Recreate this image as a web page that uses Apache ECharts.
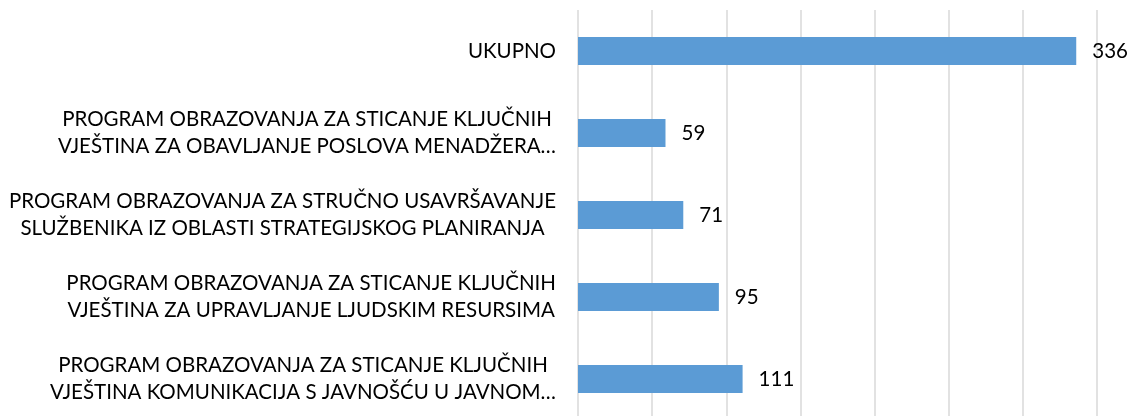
<!DOCTYPE html>
<html>
<head>
<meta charset="utf-8">
<script src="https://cdn.jsdelivr.net/npm/echarts@6/dist/echarts.min.js"></script>
<style>
  html, body { margin: 0; padding: 0; background: #fff; }
  #chart { width: 1133px; height: 416px; }
</style>
</head>
<body>
<div id="chart"></div>
<script>
  // kategorije odozdo prema gore (kao u Excelu)
  var categories = [
    'PROGRAM OBRAZOVANJA ZA STICANJE KLJUČNIH\nVJEŠTINA KOMUNIKACIJA S JAVNOŠĆU U JAVNOM…',
    'PROGRAM OBRAZOVANJA ZA STICANJE KLJUČNIH\nVJEŠTINA ZA UPRAVLJANJE LJUDSKIM RESURSIMA',
    'PROGRAM OBRAZOVANJA ZA STRUČNO USAVRŠAVANJE\nSLUŽBENIKA IZ OBLASTI STRATEGIJSKOG PLANIRANJA',
    'PROGRAM OBRAZOVANJA ZA STICANJE KLJUČNIH\nVJEŠTINA ZA OBAVLJANJE POSLOVA MENADŽERA…',
    'UKUPNO'
  ];
  var values = [111, 95, 71, 59, 336];

  var fontFamily = 'Lato, "Liberation Sans", sans-serif';

  var myChart = echarts.init(document.getElementById('chart'));

  var option = {
    animation: false,
    grid: {
      left: 578,
      top: 10,
      width: 519,
      height: 410,
      outerBoundsMode: 'none'
    },
    xAxis: {
      type: 'value',
      min: 0,
      max: 350,
      interval: 50,
      axisLabel: { show: false },
      axisLine: { show: false },
      axisTick: { show: false },
      splitLine: { lineStyle: { color: '#d9d9d9', width: 1.5 } }
    },
    yAxis: {
      type: 'category',
      data: categories,
      axisLine: { show: false },
      axisTick: { show: false },
      axisLabel: {
        margin: 22,
        formatter: function (val) {
          return val.split('\n').map(function (s) { return '{c|' + s + '}'; }).join('\n');
        },
        rich: {
          c: {
            align: 'center',
            fontFamily: fontFamily,
            fontSize: 20.5,
            lineHeight: 27,
            color: '#000'
          }
        }
      }
    },
    series: [{
      type: 'bar',
      data: values,
      barWidth: 28,
      itemStyle: { color: '#5b9bd5' },
      label: {
        show: true,
        position: 'right',
        distance: 16,
        fontFamily: fontFamily,
        fontSize: 20.5,
        color: '#000'
      }
    }]
  };

  myChart.setOption(option);
  window.addEventListener('resize', () => myChart.resize());
</script>
</body>
</html>
